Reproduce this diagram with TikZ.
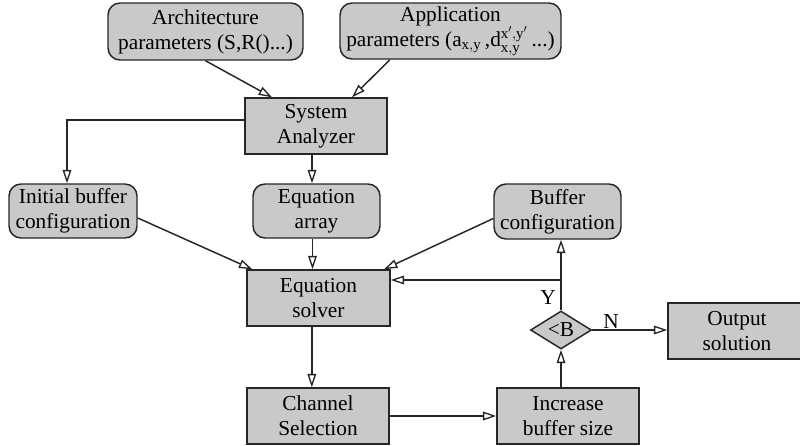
\documentclass[tikz,border=0pt]{standalone}
\usepackage{fontspec}
\setmainfont{Liberation Serif}
\usetikzlibrary{shapes.geometric,arrows.meta}
\begin{document}
\begin{tikzpicture}[x=0.75pt,y=-0.75pt,
  font=\fontsize{16}{18.75}\selectfont,
  base/.style={draw=black!85,line width=1.1pt,fill=black!21,align=center,inner sep=0pt},
  rbox/.style={base,rounded corners=9pt},
  sbox/.style={base},
  dec/.style={base,shape=diamond,shape aspect=1.6},
  arr/.style={line width=1.1pt,draw=black!85,-{Triangle[open,length=10pt,width=6.5pt,line width=1pt]}},
  lbl/.style={inner sep=0pt}]
\useasboundingbox (0,0) rectangle (800,446);
\node[rbox,minimum width=146.25pt,minimum height=42.75pt] (arch) at (205.5,31.5) {Architecture\\parameters (S,R()...)};
\node[rbox,minimum width=165.75pt,minimum height=42pt] (app) at (450.5,31) {Application\\parameters (a$_{\mathrm{x,y}}$\,,d$^{\mathrm{x',y'}}_{\mathrm{x,y}}$\,...)};
\node[sbox,minimum width=106.5pt,minimum height=42pt] (sysan) at (316,126) {System\\Analyzer};
\node[rbox,minimum width=96pt,minimum height=40.5pt] (init) at (73,211) {Initial buffer\\configuration};
\node[rbox,minimum width=95.25pt,minimum height=40.5pt] (eqarr) at (316.5,211) {Equation\\array};
\node[rbox,minimum width=95.25pt,minimum height=41.25pt] (bufconf) at (557.5,211.5) {Buffer\\configuration};
\node[sbox,minimum width=107.25pt,minimum height=42pt] (eqsolv) at (318.5,298) {Equation\\solver};
\node[dec,minimum width=45.75pt,minimum height=28.5pt] (diam) at (561,330) {<B};
\node[sbox,minimum width=103.5pt,minimum height=42pt] (output) at (737,331) {Output\\solution};
\node[sbox,minimum width=106.5pt,minimum height=42pt] (channel) at (318,416) {Channel\\Selection};
\node[sbox,minimum width=106.5pt,minimum height=42pt] (incr) at (568,416) {Increase\\buffer size};
\coordinate (jn) at (561,280);
\coordinate (lk) at (67,120);
% connectors
\draw[arr] (arch.south) -- ([xshift=-33pt]sysan.north);
\draw[arr] ([xshift=-45.4pt]app.south) -- ([xshift=27pt]sysan.north);
\draw[arr] (sysan.west |- lk) -- (lk) -- (lk |- init.north);
\draw[arr] ([xshift=-3pt]sysan.south) -- ([xshift=-3pt]sysan.south |- eqarr.north);
\draw[arr] ([yshift=-5.25pt]init.east) -- ([xshift=4.5pt]eqsolv.north west);
\draw[arr] ([xshift=-3pt]eqarr.south) -- ([xshift=-3pt]eqarr.south |- eqsolv.north);
\draw[arr] ([yshift=-5.25pt]bufconf.west) -- ([xshift=-5pt]eqsolv.north east);
\draw[arr] (diam.north) -- (diam.north |- bufconf.south);
\draw[arr] (jn) -- (jn -| eqsolv.east);
\draw[arr] ([xshift=-5pt]eqsolv.south) -- ([xshift=-5pt]eqsolv.south |- channel.north);
\draw[arr] (channel.east) -- (channel.east -| incr.west);
\draw[arr] (diam.south |- incr.north) -- (diam.south);
\draw[arr] (diam.east) -- (diam.east -| output.west);
\node[lbl] (ylab) at (548,298) {Y};
\node[lbl] (nlab) at (611,322) {N};
\end{tikzpicture}
\end{document}
